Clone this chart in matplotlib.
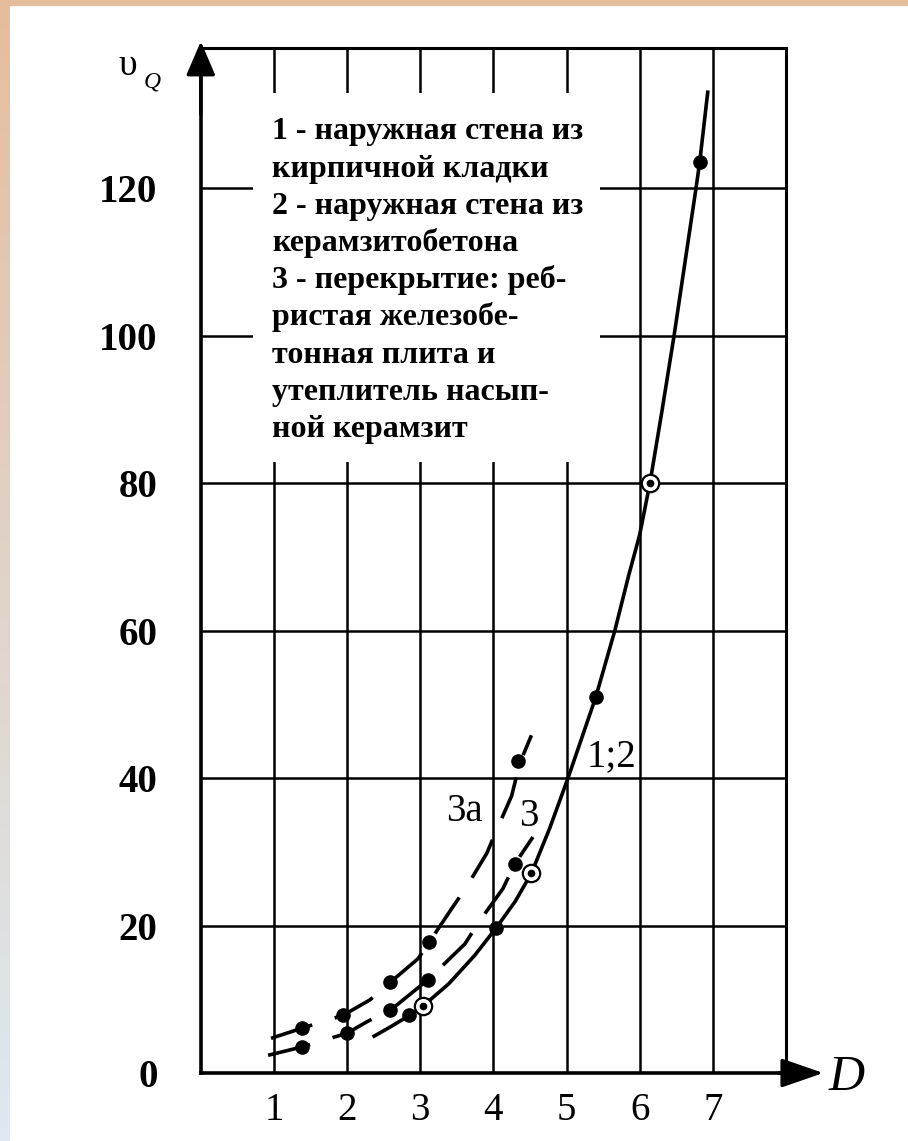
import matplotlib
matplotlib.use("Agg")
import matplotlib.pyplot as plt
import numpy as np
from matplotlib.patches import Rectangle

plt.rcParams['font.family'] = ['Liberation Serif', 'DejaVu Serif']

# curve 1;2 (solid line)
d_12 = [2.37, 2.6, 2.85, 3.04, 3.39, 3.74, 4.04, 4.3, 4.52, 4.77, 5.02, 5.2,
        5.4, 5.66, 5.85, 6.0, 6.14, 6.3, 6.47, 6.62, 6.77, 6.82, 6.93]
v_12 = [5.0, 6.3, 7.8, 9.1, 12.1, 15.9, 19.7, 23.3, 27.1, 33.2, 40.0, 45.2,
        51.0, 60.0, 67.5, 73.0, 80.0, 89.5, 100.0, 110.0, 120.0, 123.5, 133.0]
dots_12_d = [2.85, 4.04, 5.40, 6.82]
dots_12_v = [7.8, 19.7, 51.0, 123.5]
circ_12_d = [3.04, 4.52, 6.14]
circ_12_v = [9.1, 27.1, 80.0]

# curve 3 (dashed)
d_3 = [0.92, 1.39, 2.0, 2.28, 2.59, 3.10, 3.61, 3.81, 4.13, 4.29, 4.54]
v_3 = [2.4, 3.55, 5.4, 7.0, 8.5, 12.6, 17.5, 20.6, 25.0, 28.3, 32.0]
dots_3_d = [1.39, 2.0, 2.59, 3.10, 4.29]
dots_3_v = [3.55, 5.4, 8.5, 12.6, 28.3]

# curve 3a (dashed)
d_3a = [0.96, 1.39, 1.94, 2.31, 2.59, 2.97, 3.12, 3.43, 3.63, 3.91, 4.02,
        4.25, 4.36, 4.52]
v_3a = [4.7, 6.1, 7.8, 9.9, 12.3, 15.5, 17.7, 22.3, 25.2, 29.8, 32.4,
        37.6, 42.0, 45.8]
dots_3a_d = [1.39, 1.94, 2.59, 3.12, 4.34]
dots_3a_v = [6.1, 7.8, 12.3, 17.7, 42.3]

x_ticks = [1, 2, 3, 4, 5, 6, 7]
y_ticks = [0, 20, 40, 60, 80, 100, 120]

legend_lines = [
    "1 - наружная стена из",
    "кирпичной кладки",
    "2 - наружная стена из",
    "керамзитобетона",
    "3 - перекрытие: реб-",
    "ристая железобе-",
    "тонная плита и",
    "утеплитель насып-",
    "ной керамзит",
]

fig = plt.figure(figsize=(9.08, 11.41), dpi=100, facecolor='white')

# slide frame: peach strip on top, gradient strip on the left
top_col = np.array([230, 189, 156]) / 255.0
bot_col = np.array([220, 233, 241]) / 255.0
t = np.linspace(0, 1, 200)[:, None, None]
grad = (1 - t) * top_col + t * bot_col
bg = fig.add_axes([0, 0, 10 / 908, 1])
bg.imshow(grad, aspect='auto', extent=[0, 1, 0, 1])
bg.axis('off')
fig.patches.append(Rectangle((0, 1 - 5 / 1141), 1, 5 / 1141,
                             transform=fig.transFigure, color=top_col, zorder=5))

ax = fig.add_axes([200.8 / 908, 68 / 1141, 585.2 / 908, 1025 / 1141])
ax.set_xlim(0, 8)
ax.set_ylim(0, 139)

ax.set_axisbelow(True)
ax.grid(True, color='black', lw=1.8)
for name, s in ax.spines.items():
    s.set_linewidth(2.6 if name in ('left', 'bottom') else 2.2)

ax.set_xticks(x_ticks)
ax.set_xticklabels([str(v) for v in x_ticks], fontsize=28)
ax.set_yticks(y_ticks)
ax.set_yticklabels([str(v) for v in y_ticks], fontsize=28, fontweight='bold')
ax.tick_params(axis='x', length=0, pad=14)
ax.tick_params(axis='y', length=0, pad=31)

# white box behind the notes hides the grid
ax.add_patch(Rectangle((0.71, 82.9), 5.46 - 0.71, 132.9 - 82.9,
                       facecolor='white', edgecolor='none', zorder=1))

dash = (0, (12, 6.5))
ax.plot(d_12, v_12, color='black', lw=2.6, zorder=3)
ax.plot(d_3, v_3, color='black', lw=2.6, ls=dash, zorder=3)
ax.plot(d_3a, v_3a, color='black', lw=2.6, ls=dash, zorder=3)

ax.plot(dots_12_d + dots_3_d + dots_3a_d, dots_12_v + dots_3_v + dots_3a_v,
        'o', color='black', ms=9.5, zorder=4)
ax.plot(circ_12_d, circ_12_v, 'o', mfc='white', mec='black', mew=1.6,
        ms=12.5, zorder=4)
ax.plot(circ_12_d, circ_12_v, 'o', color='black', ms=4.5, zorder=5)

for txt, x, y in [("1;2", 5.62, 42.9), ("3а", 3.61, 35.4), ("3", 4.48, 34.8)]:
    ax.text(x, y, txt, fontsize=28, ha='center', va='center', zorder=6)

for i, line in enumerate(legend_lines):
    ax.text(0.98, 126.6 - 5.045 * i, line, fontsize=23, fontweight='bold',
            ha='left', va='baseline', zorder=6)

# axis arrows
ax.annotate('', xy=(8.51, 0), xytext=(7.9, 0), annotation_clip=False,
            arrowprops=dict(arrowstyle='-|>,head_length=26,head_width=9',
                            mutation_scale=1, color='black', lw=2.4,
                            shrinkA=0, shrinkB=0))
ax.annotate('', xy=(0, 139.9), xytext=(0, 130), annotation_clip=False,
            arrowprops=dict(arrowstyle='-|>,head_length=21,head_width=9',
                            mutation_scale=1, color='black', lw=2.4,
                            shrinkA=0, shrinkB=0))

ax.text(8.83, -2.3, "D", fontsize=36, fontstyle='italic', ha='center',
        va='baseline')
ax.text(-1.12, 135.4, "υ", fontsize=27, ha='left', va='baseline')
ax.text(-0.78, 133.6, "Q", fontsize=17, fontstyle='italic', ha='left',
        va='baseline')

fig.savefig("out.png", dpi=100, facecolor='white')
